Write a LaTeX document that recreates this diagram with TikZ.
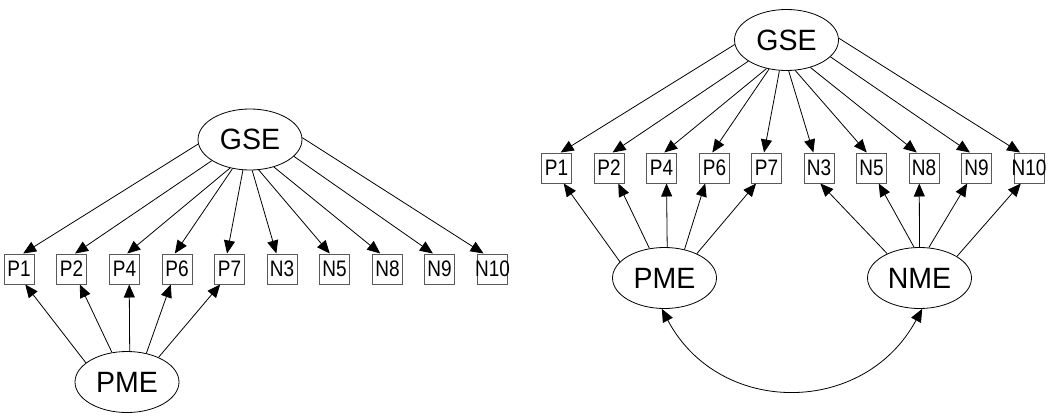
\documentclass[tikz,border=0pt]{standalone}
\usepackage{fontspec}
\setmainfont{Liberation Sans}
\usepackage{graphicx}
\usetikzlibrary{arrows.meta,shapes.geometric}
\begin{document}
\begin{tikzpicture}[x=1pt,y=-1pt,
 lat/.style={draw,ellipse,line width=0.8pt,minimum width=104pt,minimum height=61pt,inner sep=0pt,font=\fontsize{28.5}{30}\selectfont},
 obs/.style={draw=black!65,line width=1pt,minimum width=30pt,minimum height=30pt,inner sep=0pt,font=\fontsize{19}{21}\selectfont},
 edge/.style={line width=0.8pt,-{Triangle[length=13pt,width=11pt]}},
 bedge/.style={line width=0.8pt,{Triangle[length=13pt,width=11pt]}-{Triangle[length=13pt,width=11pt]}},
]
\useasboundingbox (0,0) rectangle (1048,417);
% left diagram
\node[lat] (Lgse) at (250,139.5) {\scalebox{1}[1.03]{GSE}};
\node[lat] (Lpme) at (127,382) {\scalebox{1}[1.03]{PME}};
\foreach \n/\x in {P1/19, P2/71.5, P4/124.5, P6/177, P7/229.5, N3/282, N5/334.5, N8/387.5, N9/439.5, N10/492.5}
  \node[obs] (L\n) at (\x,269) {\makebox[0pt]{\scalebox{1}[1.18]{\n}}};
% right diagram
\node[lat] (Rgse) at (786.5,40) {\scalebox{1}[1.03]{GSE}};
\node[lat] (Rpme) at (664.5,278) {\scalebox{1}[1.03]{PME}};
\node[lat] (Rnme) at (919.5,278) {\scalebox{1}[1.03]{NME}};
\foreach \n/\x in {P1/556.5, P2/609, P4/661.5, P6/714.5, P7/766.5, N3/819, N5/871.5, N8/924, N9/976.5, N10/1029}
  \node[obs] (R\n) at (\x,168) {\makebox[0pt]{\scalebox{1}[1.18]{\n}}};
% GSE edges
\foreach \n/\ga/\ta in {P1/185/75, P2/209/77, P4/235/80, P6/239/98, P7/257/99, N3/274/110, N5/286/107, N8/311/115, N9/339/113, N10/2/120} {
  \draw[edge] (Lgse.\ga) -- (L\n.\ta);
  \draw[edge] (Rgse.\ga) -- (R\n.\ta);
}
% PME edges left
\foreach \n/\sa/\ta in {P1/155/-68, P2/117/-62, P4/85/-73, P6/56/-112, P7/38/-121}
  \draw[edge] (Lpme.\sa) -- (L\n.\ta);
% PME edges right
\foreach \n/\sa/\ta in {P1/160/-65, P2/117/-59, P4/85/-72, P6/55/-121, P7/37/-124}
  \draw[edge] (Rpme.\sa) -- (R\n.\ta);
% NME edges
\foreach \n/\sa/\ta in {N3/143/-85, N5/100/-65, N8/90/-107, N9/73/-121, N10/30/-118}
  \draw[edge] (Rnme.\sa) -- (R\n.\ta);
% covariance
\draw[bedge] (Rpme.-95) .. controls (718.7,416.7) and (864,416.7) .. (Rnme.-85);
\end{tikzpicture}
\end{document}
